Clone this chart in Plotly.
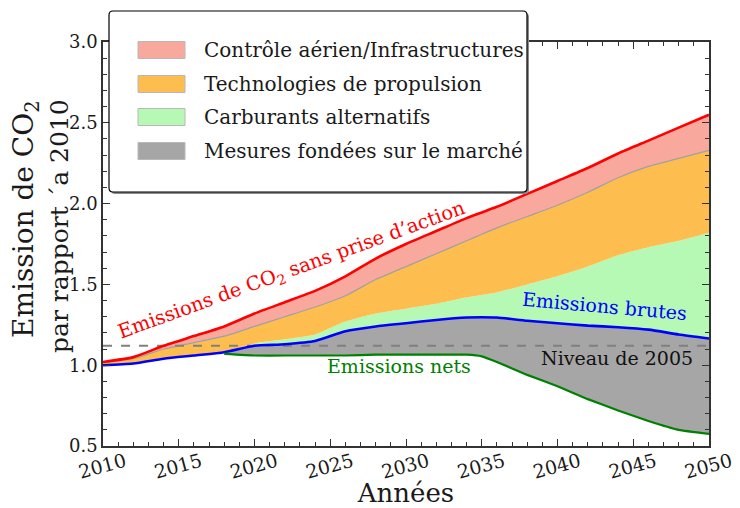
import plotly.graph_objects as go

# data
years = [2010, 2012, 2014, 2016, 2018, 2020, 2022, 2024, 2026, 2028, 2030,
         2032, 2034, 2035, 2036, 2038, 2040, 2042, 2044, 2046, 2048, 2050]
sans_action = [1.02, 1.05, 1.12, 1.18, 1.24, 1.32, 1.39, 1.46, 1.55, 1.66, 1.75,
               1.83, 1.91, 1.945, 1.98, 2.06, 2.14, 2.22, 2.31, 2.39, 2.47, 2.55]
sans_atm = [1.015, 1.04, 1.10, 1.14, 1.18, 1.24, 1.30, 1.36, 1.43, 1.53, 1.61,
            1.69, 1.77, 1.81, 1.85, 1.92, 1.99, 2.07, 2.16, 2.23, 2.28, 2.33]
sans_techno = [1.0, 1.01, 1.04, 1.06, 1.08, 1.135, 1.16, 1.19, 1.27, 1.32, 1.35,
               1.38, 1.42, 1.435, 1.45, 1.50, 1.55, 1.61, 1.68, 1.73, 1.77, 1.82]
brutes = [1.0, 1.01, 1.04, 1.06, 1.08, 1.12, 1.13, 1.15, 1.21, 1.24, 1.26,
          1.28, 1.295, 1.297, 1.295, 1.275, 1.26, 1.245, 1.235, 1.22, 1.19, 1.165]
net_years = [2018, 2020, 2022, 2024, 2026, 2028, 2030, 2032, 2034, 2035, 2036,
             2038, 2040, 2042, 2044, 2046, 2048, 2050]
nets = [1.07, 1.06, 1.06, 1.06, 1.06, 1.065, 1.065, 1.065, 1.065, 1.055, 1.02,
        0.94, 0.87, 0.79, 0.72, 0.655, 0.60, 0.575]
niveau_2005 = 1.12

legend_labels = ["Contrôle aérien/Infrastructures", "Technologies de propulsion",
                 "Carburants alternatifs", "Mesures fondées sur le marché"]
fill_colors = ["#f9a89d", "#fdbe4f", "#b5f9b5", "#a6a6a6"]

FONT = "DejaVu Serif"
TXT = "#1a1a1a"
L, R, T, B = 103, 709, 42, 446
W, H = 740, 508


def px(x):
    return (x - L) / (R - L)


def py(y):
    return (B - y) / (B - T)


def round_rect(x0, y0, x1, y1, r):
    # rounded rectangle path in paper coords, from pixel corners
    a, b, c, d = px(x0), px(x1), py(y0), py(y1)
    rx, ry = r / (R - L), r / (B - T)
    return (f"M{a+rx},{c} L{b-rx},{c} Q{b},{c} {b},{c-ry} L{b},{d+ry} "
            f"Q{b},{d} {b-rx},{d} L{a+rx},{d} Q{a},{d} {a},{d+ry} "
            f"L{a},{c-ry} Q{a},{c} {a+rx},{c} Z")


fig = go.Figure()
spl = dict(shape="spline", smoothing=0.6)

# gray: between brutes and nets
i0 = years.index(net_years[0])
fig.add_trace(go.Scatter(x=years[i0:], y=brutes[i0:], mode="lines",
                         line=dict(width=0, **spl), hoverinfo="skip"))
fig.add_trace(go.Scatter(x=net_years, y=nets, mode="lines", fill="tonexty",
                         fillcolor=fill_colors[3],
                         line=dict(width=0, shape="spline", smoothing=0.35)))
# green: brutes -> sans_techno
fig.add_trace(go.Scatter(x=years, y=brutes, mode="lines",
                         line=dict(width=0, **spl)))
fig.add_trace(go.Scatter(x=years, y=sans_techno, mode="lines", fill="tonexty",
                         fillcolor=fill_colors[2], line=dict(width=0, **spl)))
# orange: sans_techno -> sans_atm
fig.add_trace(go.Scatter(x=years, y=sans_atm, mode="lines", fill="tonexty",
                         fillcolor=fill_colors[1],
                         line=dict(width=1.2, color="#a0a0a0", **spl)))
# pink: sans_atm -> sans_action
fig.add_trace(go.Scatter(x=years, y=sans_action, mode="lines", fill="tonexty",
                         fillcolor=fill_colors[0], line=dict(width=0, **spl)))

# 2005 level
fig.add_trace(go.Scatter(x=[years[0], years[-1]], y=[niveau_2005] * 2, mode="lines",
                         line=dict(color="#808080", width=2, dash="dash")))
# lines
fig.add_trace(go.Scatter(x=years, y=sans_action, mode="lines",
                         line=dict(color="#ff0000", width=2.6, **spl)))
fig.add_trace(go.Scatter(x=years, y=brutes, mode="lines",
                         line=dict(color="#0000ff", width=2.6, **spl)))
fig.add_trace(go.Scatter(x=net_years, y=nets, mode="lines",
                         line=dict(color="#008000", width=2.2, shape="spline",
                                   smoothing=0.35)))

ann = [
    dict(x=2022.5, y=1.585, text="Emissions de CO<sub>2</sub> sans prise d’action",
         textangle=-20, font=dict(color="#ff0000", size=19.5)),
    dict(x=2043.1, y=1.366, text="Emissions brutes", textangle=5,
         font=dict(color="#0000ff", size=19)),
    dict(x=2029.55, y=0.994, text="Emissions nets",
         font=dict(color="#008000", size=19)),
    dict(x=2043.9, y=1.043, text="Niveau de 2005",
         font=dict(color="#111111", size=19)),
]
for a in ann:
    a.update(xref="x", yref="y", showarrow=False)
    fig.add_annotation(**a)

# y-axis title, two lines placed by hand
for txt, xc, yc, fs in [("Emission de CO<sub>2</sub>", 26, 219, 28),
                        ("par rapport ´a 2010", 60, 226, 25)]:
    fig.add_annotation(xref="paper", yref="paper", x=px(xc), y=py(yc), textangle=-90,
                       text=txt, showarrow=False, xanchor="center", yanchor="middle",
                       font=dict(size=fs, color=TXT))

# legend box drawn by hand (rounded, with shadow)
fig.add_shape(type="path", xref="paper", yref="paper", layer="above",
              path=round_rect(111, 13, 529, 194, 4), fillcolor="#8a8a8a", line_width=0)
fig.add_shape(type="path", xref="paper", yref="paper", layer="above",
              path=round_rect(109, 11, 527, 192, 4), fillcolor="white",
              line=dict(color="black", width=1.2))
row_y = [50, 84, 117, 151]
for lab, col, yy in zip(legend_labels, fill_colors, row_y):
    fig.add_shape(type="rect", xref="paper", yref="paper", layer="above",
                  x0=px(138), x1=px(185), y0=py(yy - 8.5), y1=py(yy + 8.5),
                  fillcolor=col, line=dict(color="#b8b8b8", width=1))
    fig.add_annotation(xref="paper", yref="paper", x=px(202), y=py(yy), text=lab,
                       xanchor="left", yanchor="middle", showarrow=False,
                       font=dict(size=20, color=TXT))

axis_common = dict(showline=True, linecolor="#333333", linewidth=1.5, mirror="ticks",
                   ticks="inside", ticklen=7, tickcolor="#333333", showgrid=False,
                   zeroline=False)
fig.update_xaxes(range=[2010, 2050], dtick=5, tickangle=-15, ticklabelshift=22,
                 ticklabelstandoff=-4, tickfont=dict(size=19, color=TXT),
                 minor=dict(ticks="inside", dtick=1, ticklen=4, tickcolor="#333333"),
                 title=dict(text="Années", font=dict(size=26, color=TXT), standoff=6),
                 **axis_common)
fig.update_yaxes(range=[0.5, 3.0], dtick=0.5, tickformat=".1f",
                 tickfont=dict(size=18, color=TXT),
                 minor=dict(ticks="inside", dtick=0.1, ticklen=4, tickcolor="#333333"),
                 **axis_common)

fig.update_layout(width=W, height=H, showlegend=False, plot_bgcolor="white",
                  paper_bgcolor="white", font=dict(family=FONT),
                  margin=dict(l=L, r=W - R, t=T, b=H - B, autoexpand=False))

fig.write_html("out.html", config={"displayModeBar": False},
               post_script="document.body.style.margin='0';")
